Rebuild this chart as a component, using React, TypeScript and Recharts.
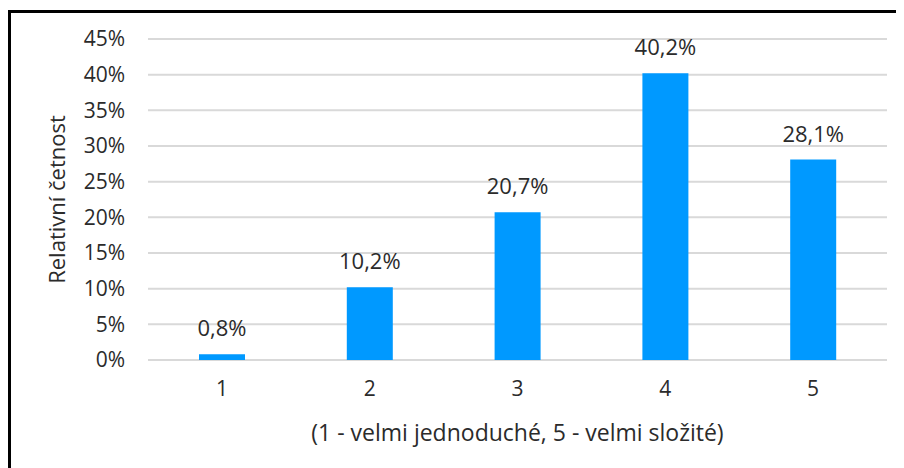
import { BarChart, Bar, XAxis, YAxis, CartesianGrid, LabelList } from "recharts";

const categories = ["1", "2", "3", "4", "5"];
const shares = [0.8, 10.2, 20.7, 40.2, 28.1];
const yTicks = [0, 5, 10, 15, 20, 25, 30, 35, 40, 45];

const data = categories.map((c, i) => ({ level: c, share: shares[i] }));

const font = "'Open Sans', sans-serif";
const textColor = "#2b2b2b";

const pct = (v: number) => `${v}%`;
const pctComma = (v: any) => `${Number(v).toFixed(1).replace(".", ",")}%`;

export default function App() {
  return (
    <div
      style={{
        marginTop: 2,
        width: 896,
        height: 458,
        borderTop: "3px solid #000",
        borderLeft: "3px solid #000",
        boxSizing: "border-box",
        background: "#fff",
        fontFamily: font,
      }}
    >
      <BarChart
        width={893}
        height={455}
        data={data}
        margin={{ top: 26, right: 17, bottom: 0, left: 0 }}
      >
        <CartesianGrid vertical={false} stroke="#d9d9d9" strokeWidth={2} />
        <XAxis
          dataKey="level"
          height={108}
          axisLine={false}
          tickLine={false}
          tickSize={0}
          tickMargin={21}
          tick={{ fill: textColor, fontSize: 21, fontFamily: font }}
          label={{
            value: "(1 - velmi jednoduché, 5 - velmi složité)",
            position: "insideBottom",
            offset: 27,
            fill: textColor,
            fontSize: 23,
            fontFamily: font,
          }}
        />
        <YAxis
          width={137}
          domain={[0, 45]}
          ticks={yTicks}
          interval={0}
          axisLine={false}
          tickLine={false}
          tickSize={0}
          tickMargin={23}
          tickFormatter={pct}
          tick={{ fill: textColor, fontSize: 21, fontFamily: font }}
          label={{
            value: "Relativní četnost",
            angle: -90,
            position: "insideLeft",
            offset: 46,
            fill: textColor,
            fontSize: 22,
            fontFamily: font,
            style: { textAnchor: "middle" },
          }}
        />
        <Bar dataKey="share" fill="#0099ff" barSize={46} isAnimationActive={false}>
          <LabelList
            dataKey="share"
            position="top"
            offset={18}
            formatter={pctComma}
            fill={textColor}
            fontSize={22}
            fontFamily={font}
          />
        </Bar>
      </BarChart>
    </div>
  );
}
